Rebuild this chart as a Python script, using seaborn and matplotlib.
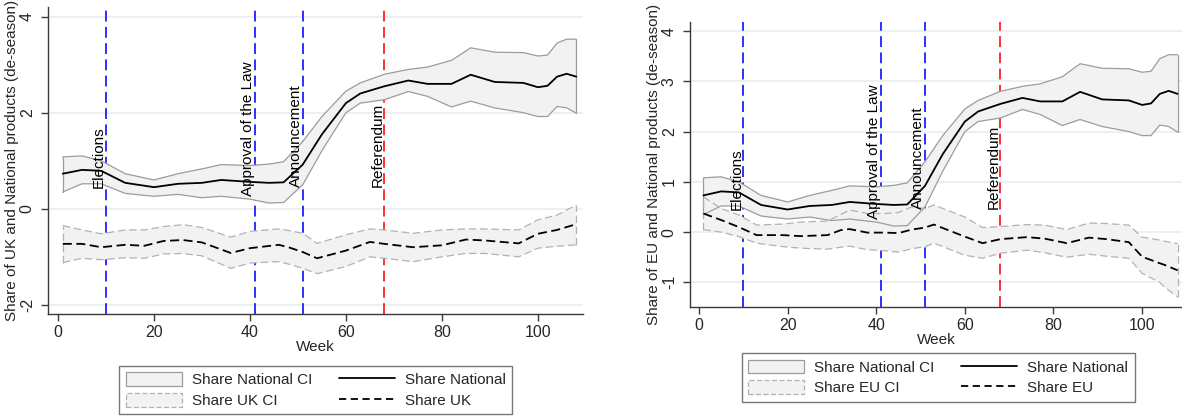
import numpy as np
import pandas as pd
import matplotlib
matplotlib.use("Agg")
import matplotlib.pyplot as plt
import seaborn as sns
from matplotlib.patches import Patch
from matplotlib.lines import Line2D

# ---------------- data ----------------
weeks_nat = [1, 5, 9, 14, 20, 25, 30, 34, 40, 44, 47, 51, 55, 60, 63, 68, 73, 77,
             82, 86, 91, 97, 100, 102, 104, 106, 108]
nat_mean = [0.73, 0.81, 0.79, 0.54, 0.45, 0.52, 0.54, 0.60, 0.56, 0.54, 0.55, 0.92,
            1.55, 2.20, 2.40, 2.55, 2.67, 2.60, 2.60, 2.79, 2.64, 2.62, 2.53, 2.56,
            2.75, 2.81, 2.75]
nat_upper = [1.08, 1.10, 1.00, 0.73, 0.60, 0.73, 0.83, 0.92, 0.90, 0.93, 0.98, 1.40,
             1.92, 2.45, 2.62, 2.80, 2.90, 2.95, 3.09, 3.35, 3.26, 3.25, 3.18, 3.20,
             3.45, 3.53, 3.53]
nat_lower = [0.35, 0.52, 0.52, 0.32, 0.26, 0.30, 0.23, 0.26, 0.20, 0.12, 0.13, 0.50,
             1.21, 2.00, 2.20, 2.27, 2.44, 2.34, 2.12, 2.24, 2.10, 2.00, 1.92, 1.92,
             2.13, 2.10, 1.99]

weeks_uk = [1, 5, 9, 14, 18, 22, 26, 30, 36, 40, 46, 48, 51, 54, 60, 65, 68, 74, 80,
            85, 89, 96, 100, 104, 108]
uk_mean = [-0.73, -0.73, -0.80, -0.75, -0.77, -0.67, -0.65, -0.70, -0.92, -0.82, -0.75,
           -0.80, -0.90, -1.03, -0.87, -0.69, -0.73, -0.80, -0.76, -0.64, -0.66, -0.72,
           -0.52, -0.44, -0.32]
uk_upper = [-0.35, -0.44, -0.52, -0.44, -0.44, -0.37, -0.33, -0.39, -0.59, -0.47, -0.42,
            -0.45, -0.51, -0.72, -0.54, -0.42, -0.44, -0.51, -0.44, -0.42, -0.42, -0.44,
            -0.23, -0.13, 0.08]
uk_lower = [-1.12, -1.03, -1.06, -1.02, -1.03, -0.94, -0.93, -0.98, -1.24, -1.13, -1.10,
            -1.15, -1.24, -1.35, -1.20, -1.00, -1.03, -1.10, -1.00, -0.93, -0.93, -1.00,
            -0.82, -0.78, -0.75]

weeks_eu = [1, 5, 9, 13, 19, 23, 29, 32, 34, 38, 42, 45, 48, 51, 53, 60, 64, 68, 74,
            78, 83, 88, 92, 97, 100, 104, 105, 108]
eu_mean = [0.37, 0.24, 0.10, -0.06, -0.06, -0.08, -0.06, 0.04, 0.06, -0.01, -0.01,
           -0.02, 0.05, 0.09, 0.15, -0.09, -0.22, -0.14, -0.10, -0.13, -0.22, -0.11,
           -0.14, -0.20, -0.49, -0.62, -0.65, -0.76]
eu_upper = [0.70, 0.47, 0.34, 0.14, 0.16, 0.20, 0.22, 0.35, 0.44, 0.37, 0.37, 0.39,
            0.50, 0.47, 0.54, 0.30, 0.09, 0.11, 0.15, 0.14, 0.05, 0.18, 0.17, 0.14,
            -0.10, -0.16, -0.18, -0.23]
eu_lower = [0.05, 0.00, -0.09, -0.22, -0.29, -0.32, -0.34, -0.30, -0.28, -0.35, -0.37,
            -0.40, -0.33, -0.29, -0.22, -0.46, -0.52, -0.42, -0.36, -0.41, -0.50, -0.44,
            -0.48, -0.52, -0.82, -1.00, -1.09, -1.29]

event_weeks = [10, 41, 51, 68]
event_labels = ["Elections", "Approval of the Law", "Announcement", "Referendum"]
event_colors = ["#1f1fff", "#1f1fff", "#1f1fff", "#ff1f1f"]
event_text_y = [0.44, 0.27, 0.46, 0.46]

# ---------------- style ----------------
sns.set_style("white")
plt.rcParams["font.family"] = ["Liberation Sans", "DejaVu Sans"]
FS = 11
TFS = 11.5

fig = plt.figure(figsize=(11.82, 4.17), dpi=100)

BAND_FILL = "#f2f2f2"
NAT_EDGE = "#9c9c9c"
OTH_EDGE = "#b2b2b2"
GRID = "#e6eef0"


def panel(rect, xlim, ylim, yticks, other_w, other_m, other_u, other_l, other_name,
          ylabel, leg_center):
    ax = fig.add_axes(rect)
    ax.set_xlim(*xlim)
    ax.set_ylim(*ylim)
    ax.set_yticks(yticks)
    ax.set_xticks([0, 20, 40, 60, 80, 100])
    for yt in yticks:
        ax.axhline(yt, color=GRID, lw=1.1, zorder=0)
    # event lines (beneath the bands)
    for w, c in zip(event_weeks, event_colors):
        ax.axvline(w, color=c, lw=1.3, dashes=(6, 3), zorder=1)
    # bands
    ax.fill_between(weeks_nat, nat_lower, nat_upper, facecolor=BAND_FILL,
                    edgecolor="none", zorder=2)
    ax.plot(weeks_nat, nat_upper, color=NAT_EDGE, lw=0.9, zorder=2.1)
    ax.plot(weeks_nat, nat_lower, color=NAT_EDGE, lw=0.9, zorder=2.1)
    ax.plot([weeks_nat[0]] * 2, [nat_lower[0], nat_upper[0]], color=NAT_EDGE, lw=0.9, zorder=2.1)
    ax.plot([weeks_nat[-1]] * 2, [nat_lower[-1], nat_upper[-1]], color=NAT_EDGE, lw=0.9, zorder=2.1)

    ax.fill_between(other_w, other_l, other_u, facecolor=BAND_FILL,
                    edgecolor="none", zorder=2)
    for arr in (other_u, other_l):
        ax.plot(other_w, arr, color=OTH_EDGE, lw=0.9, dashes=(6, 3), zorder=2.1)
    ax.plot([other_w[0]] * 2, [other_l[0], other_u[0]], color=OTH_EDGE, lw=0.9,
            dashes=(6, 3), zorder=2.1)
    ax.plot([other_w[-1]] * 2, [other_l[-1], other_u[-1]], color=OTH_EDGE, lw=0.9,
            dashes=(6, 3), zorder=2.1)

    # mean lines via seaborn
    df_nat = pd.DataFrame({"Week": weeks_nat, "val": nat_mean})
    df_oth = pd.DataFrame({"Week": other_w, "val": other_m})
    sns.lineplot(data=df_nat, x="Week", y="val", ax=ax, color="black", lw=1.3,
                 legend=False, zorder=3)
    sns.lineplot(data=df_oth, x="Week", y="val", ax=ax, color="black", lw=1.3,
                 legend=False, zorder=3)
    ax.lines[-1].set_dashes((5, 2.5))

    # event texts
    for w, lab, ty in zip(event_weeks, event_labels, event_text_y):
        ax.text(w, ty, lab, rotation=90, ha="right", va="bottom", fontsize=FS,
                color="black", zorder=4)

    # axes styling
    for s in ("top", "right"):
        ax.spines[s].set_visible(False)
    for s in ("left", "bottom"):
        ax.spines[s].set_color("#3a3a3a")
        ax.spines[s].set_linewidth(1.0)
    ax.tick_params(axis="both", direction="out", length=5, width=1.0,
                   color="#3a3a3a", labelsize=TFS, pad=3, left=True, bottom=True)
    ax.tick_params(axis="y", pad=4.5)
    ax.set_yticklabels([str(int(t)) if t >= 0 else "-" + str(int(abs(t))) for t in yticks],
                       rotation=90, va="center")
    ax.set_xlabel("Week", fontsize=FS, labelpad=0)
    ax.set_ylabel(ylabel, fontsize=FS, labelpad=0.5)
    ax.grid(False)

    handles = [
        Patch(facecolor=BAND_FILL, edgecolor=NAT_EDGE, lw=0.9),
        Patch(facecolor=BAND_FILL, edgecolor=OTH_EDGE, lw=0.9, linestyle=(0, (4, 2))),
        Line2D([], [], color="black", lw=1.3),
        Line2D([], [], color="black", lw=1.3, dashes=(4, 2.5)),
    ]
    labels = ["Share National CI", f"Share {other_name} CI", "Share National",
              f"Share {other_name}"]
    leg = fig.legend(handles, labels, ncol=2, loc="center", bbox_to_anchor=leg_center,
                     bbox_transform=fig.transFigure, fontsize=FS, frameon=True,
                     fancybox=False, edgecolor="#555555", handlelength=3.7,
                     handleheight=1.0, handletextpad=0.65, columnspacing=1.7,
                     labelspacing=0.38, borderpad=0.42, borderaxespad=0)
    leg.get_frame().set_linewidth(1.0)
    return ax


panel([48 / 1182, 1 - 314 / 417, (583 - 48) / 1182, (314 - 7) / 417],
      (-2.08, 109.4), (-2.19, 4.2), [-2, 0, 2, 4],
      weeks_uk, uk_mean, uk_upper, uk_lower, "UK",
      "Share of UK and National products (de-season)", (0.2673, 0.0647))

panel([690 / 1182, 1 - 307 / 417, (1182 - 690) / 1182, (307 - 22) / 417],
      (-2.03, 109.0), (-1.49, 4.18), [-1, 0, 1, 2, 3, 4],
      weeks_eu, eu_mean, eu_upper, eu_lower, "EU",
      "Share of EU and National products (de-season)", (0.7936, 0.0947))

fig.savefig("out.png", dpi=100, facecolor="white")
